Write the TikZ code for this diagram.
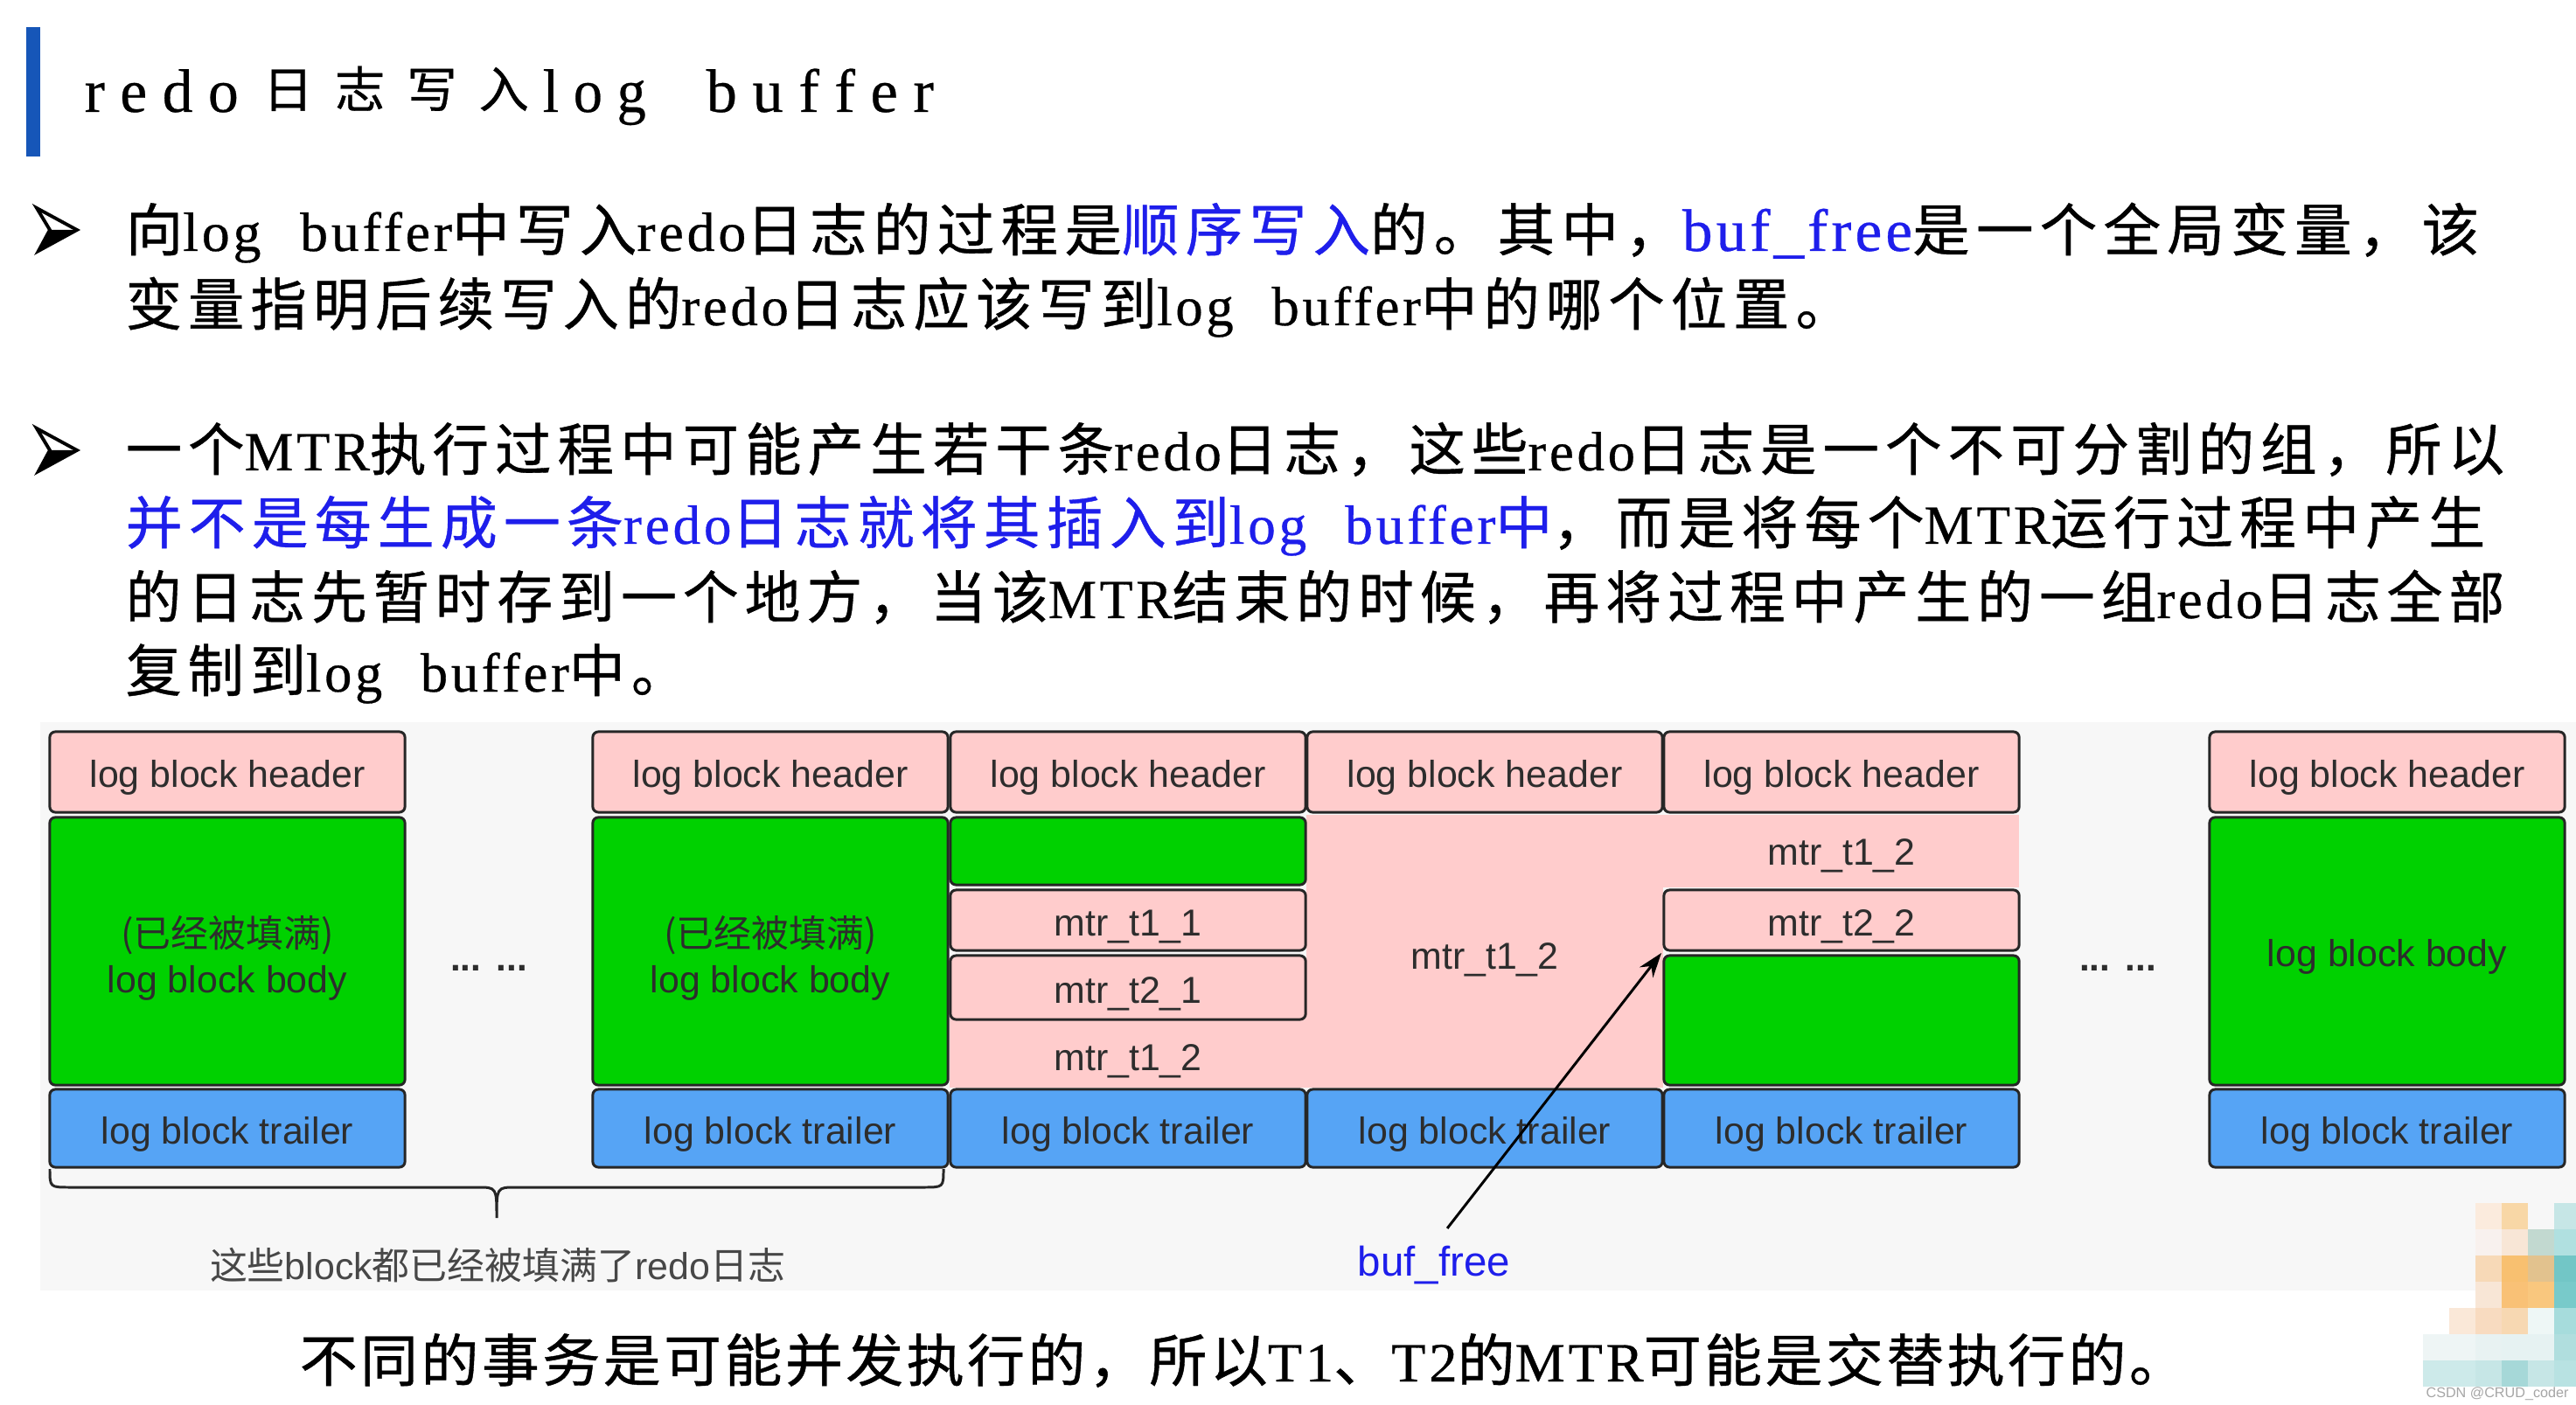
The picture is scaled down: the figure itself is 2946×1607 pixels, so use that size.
\documentclass[tikz,border=0pt]{standalone}
\usepackage{fontspec}
\usepackage{graphicx}
\setmainfont{Liberation Serif}
\setsansfont{Liberation Sans}
\newfontfamily\zhPar[LetterSpace=11,FakeBold=0.6]{Noto Sans CJK SC}
\newfontfamily\laPar[LetterSpace=6,FakeBold=0.5]{Liberation Serif}
\newfontfamily\zhTit[FakeBold=0.6]{Noto Sans CJK SC}
\newfontfamily\laTit[FakeBold=0.4]{Liberation Serif}
\newfontfamily\zhBot[LetterSpace=5,FakeBold=0.6]{Noto Sans CJK SC}
\newfontfamily\zhSm{Noto Sans CJK SC}
\usetikzlibrary{arrows.meta}

\definecolor{pinkc}{RGB}{255,204,204}
\definecolor{greenc}{RGB}{0,209,0}
\definecolor{bluec}{RGB}{86,164,245}
\definecolor{bordc}{RGB}{38,38,38}
\definecolor{txtc}{RGB}{45,45,45}
\definecolor{hlblue}{RGB}{30,30,235}
\definecolor{barblue}{RGB}{22,86,184}
\definecolor{bggray}{RGB}{247,247,247}

\newcommand\mypz[1]{{\zhPar\fontsize{18.5}{22}\selectfont#1}}
\newcommand\mypl[1]{{\laPar\fontsize{18}{22}\selectfont#1}}
\newcommand\mypL[1]{{\laPar\fontsize{19.5}{22}\selectfont#1}}
\newcommand\mybz[1]{{\zhBot\fontsize{18.5}{22}\selectfont#1}}
\newcommand\mybl[1]{{\laPar\fontsize{18}{22}\selectfont#1}}
\newcommand\fitw[2]{\resizebox{#1}{\height}{#2}}
\newcommand\tgap{\hspace*{5pt}}
\newcommand\tzgap{\hspace*{7pt}}

\tikzset{
  part/.style={draw=bordc, line width=0.85pt, rounded corners=1.8pt, minimum width=4.06cm,
    inner sep=0pt, font=\sffamily\fontsize{12.2}{15}\selectfont, text=txtc,
    text height=11pt, text depth=1pt},
  hdr/.style={part, fill=pinkc, minimum height=0.92cm},
  bdy/.style={part, fill=greenc, minimum height=3.06cm},
  trl/.style={part, fill=bluec, minimum height=0.89cm},
  plainlbl/.style={inner sep=0pt, font=\sffamily\fontsize{12.2}{15}\selectfont, text=txtc},
  line/.style={anchor=base west, inner sep=0pt},
  titlat/.style={line, font=\laTit\fontsize{20}{24}\selectfont},
  titzh/.style={line, font=\zhTit\fontsize{16}{18}\selectfont},
  bracestyle/.style={draw=bordc, line width=0.85pt},
}

\begin{document}
\begin{tikzpicture}[x=0.01cm, y=-0.01cm]
\useasboundingbox (0,0) rectangle (2946,1607);
\fill[white] (0,0) rectangle (2946,1607);

% title
\fill[barblue] (30,31) rectangle (46,179);
\node[titlat] (t1) at (96,128) {\fitw{1.76cm}{r\tgap e\tgap d\tgap o}};
\node[titzh] (t2) at (300,123) {\fitw{3.04cm}{日\tzgap 志\tzgap 写\tzgap 入}};
\node[titlat] (t3) at (620,128) {\fitw{1.18cm}{l\tgap o\tgap g}};
\node[titlat] (t4) at (807,128) {\fitw{2.60cm}{b\tgap u\tgap f\tgap f\tgap e\tgap r}};

% bullets
\foreach \yy in {263,515} {
  \fill[black] (57,\yy) -- (88,\yy) -- (44,\yy+24) -- cycle;
  \draw[black, line width=1.1pt, line join=miter] (42,\yy-25) -- (88,\yy) -- (44,\yy+24) -- (57,\yy) -- cycle;
}

% paragraph 1
\node[line] (p1) at (143,287) {\fitw{26.90cm}{\mypz{向}\mypl{log\hspace*{0.7em}buffer}\mypz{中写入}\mypl{redo}\mypz{日志的过程是}\textcolor{hlblue}{\mypz{顺序写入}}\mypz{的。其中，}\textcolor{hlblue}{\mypL{buf\_free}}\mypz{是一个全局变量，该}}};
\node[line] (p2) at (143,372) {\fitw{19.73cm}{\mypz{变量指明后续写入的}\mypl{redo}\mypz{日志应该写到}\mypl{log\hspace*{0.7em}buffer}\mypz{中的哪个位置。}}};

% paragraph 2
\node[line] (q1) at (143,538) {\fitw{27.19cm}{\mypz{一个}\mypl{MTR}\mypz{执行过程中可能产生若干条}\mypl{redo}\mypz{日志，这些}\mypl{redo}\mypz{日志是一个不可分割的组，所以}}};
\node[line] (q2) at (143,622) {\fitw{26.97cm}{\textcolor{hlblue}{\mypz{并不是每生成一条}\mypl{redo}\mypz{日志就将其插入到}\mypl{log\hspace*{0.7em}buffer}\mypz{中}}\mypz{，而是将每个}\mypl{MTR}\mypz{运行过程中产生}}};
\node[line] (q3) at (143,707) {\fitw{27.19cm}{\mypz{的日志先暂时存到一个地方，当该}\mypl{MTR}\mypz{结束的时候，再将过程中产生的一组}\mypl{redo}\mypz{日志全部}}};
\node[line] (q4) at (143,791) {\fitw{6.42cm}{\mypz{复制到}\mypl{log\hspace*{0.7em}buffer}\mypz{中。}}};

% diagram background
\fill[bggray] (46,826) rectangle (2946,1476);

% merged pink region (mtr_t1_2)
\fill[pinkc] (1086,1163) rectangle (1494,1244);
\fill[pinkc] (1494,932) rectangle (1902,1244);
\fill[pinkc] (1902,932) rectangle (2309,1015);

% headers and trailers
\foreach \n/\x in {1/260,2/881,3/1290,4/1698,5/2106,6/2730} {
  \node[hdr] (h\n) at (\x,883) {log block header};
  \node[trl] (t\n) at (\x,1290.5) {log block trailer};
}

% bodies
\node[bdy] (b1) at (260,1088) {};
\node[plainlbl, align=center] (b1lbl) at (260,1096) {{\zhSm\fontsize{12.2}{15}\selectfont (已经被填满)}\\log block body};
\node[bdy] (b2) at (881,1088) {};
\node[plainlbl, align=center] (b2lbl) at (881,1096) {{\zhSm\fontsize{12.2}{15}\selectfont (已经被填满)}\\log block body};
\node[bdy] (b6) at (2730,1088) {log block body};

% block 3
\node[part, fill=greenc, minimum height=0.77cm] (g3) at (1290,973.5) {};
\node[part, fill=pinkc, minimum height=0.69cm] (m311) at (1290,1052.5) {mtr\_t1\_1};
\node[part, fill=pinkc, minimum height=0.73cm] (m321) at (1290,1129.5) {mtr\_t2\_1};
\node[plainlbl] (m312) at (1290,1214) {mtr\_t1\_2};
% block 4
\node[plainlbl] (m412) at (1698,1098) {mtr\_t1\_2};
% block 5
\node[plainlbl] (m512) at (2106,979) {mtr\_t1\_2};
\node[part, fill=pinkc, minimum height=0.69cm] (m522) at (2106,1052.5) {mtr\_t2\_2};
\node[part, fill=greenc, minimum height=1.48cm] (g5) at (2106,1167) {};

% ellipses
\node[plainlbl, font=\sffamily\bfseries\fontsize{12}{14}\selectfont, anchor=base] (dots1) at (559,1110) {...\hspace{5pt}...};
\node[plainlbl, font=\sffamily\bfseries\fontsize{12}{14}\selectfont, anchor=base] (dots2) at (2422,1110) {...\hspace{5pt}...};

% brace
\coordinate (brL) at (57,1337);
\coordinate (brR) at (1079,1337);
\coordinate (brT) at (568,1393);
\draw[bracestyle] (brL) .. controls (57,1358) .. (80,1358) -- (546,1358) .. controls (568,1358) .. (brT) .. controls (568,1358) .. (590,1358) -- (1056,1358) .. controls (1079,1358) .. (brR);
\node[plainlbl, text=black!72] (brlbl) at (569,1447) {{\zhSm 这些}block{\zhSm 都已经被填满了}redo{\zhSm 日志}};

% buf_free pointer
\coordinate (bftip) at (1900,1090);
\node[inner sep=0pt, text=hlblue, font=\sffamily\fontsize{13.5}{16}\selectfont] (buf) at (1640,1447) {buf\_free};
\draw[draw=black, line width=0.85pt, -{Stealth[length=8pt,width=5.5pt]}, shorten <=7pt] (buf.north) -- (bftip);

% bottom sentence
\node[line] (note) at (342,1580) {\fitw{21.57cm}{\mybz{不同的事务是可能并发执行的，所以}\mybl{T1}\mybz{、}\mybl{T2}\mybz{的}\mybl{MTR}\mybz{可能是交替执行的。}}};

% watermark mosaic
\foreach \c/\r/\h in {2/0/FBEBDD,3/0/F8D7A6,5/0/C6E6E6,
  2/1/F8F1EE,3/1/F8E6D6,4/1/C2D9D0,5/1/B0E0E0,
  2/2/F7D9B7,3/2/F8C070,4/2/E2C28E,5/2/72C6C6,
  2/3/F8E6D6,3/3/F9C176,4/3/F9C77E,5/3/78CACA,
  1/4/FAE8D8,2/4/F8DBC0,3/4/F7D8B2,4/4/EEF7F6,5/4/A6DCDC,
  0/5/EEF5F5,1/5/EEF5F5,2/5/E8F2F2,3/5/E6F2F2,4/5/E6F2F2,5/5/B0DEDE,
  0/6/CDEAEA,1/6/CDEAEA,2/6/C6E6E6,3/6/A6D8D8,4/6/C6E6E6,5/6/B8E2E2} {
  \definecolor{mosc}{HTML}{\h}
  \fill[mosc] ({2771+30*\c},{1376+30*\r}) rectangle ++(30,30);
}
\node[inner sep=0pt, font=\sffamily\fontsize{4.6}{5}\selectfont, text=black!35] (wm) at (2856,1594) {CSDN @CRUD\_coder};
\end{tikzpicture}
\end{document}
